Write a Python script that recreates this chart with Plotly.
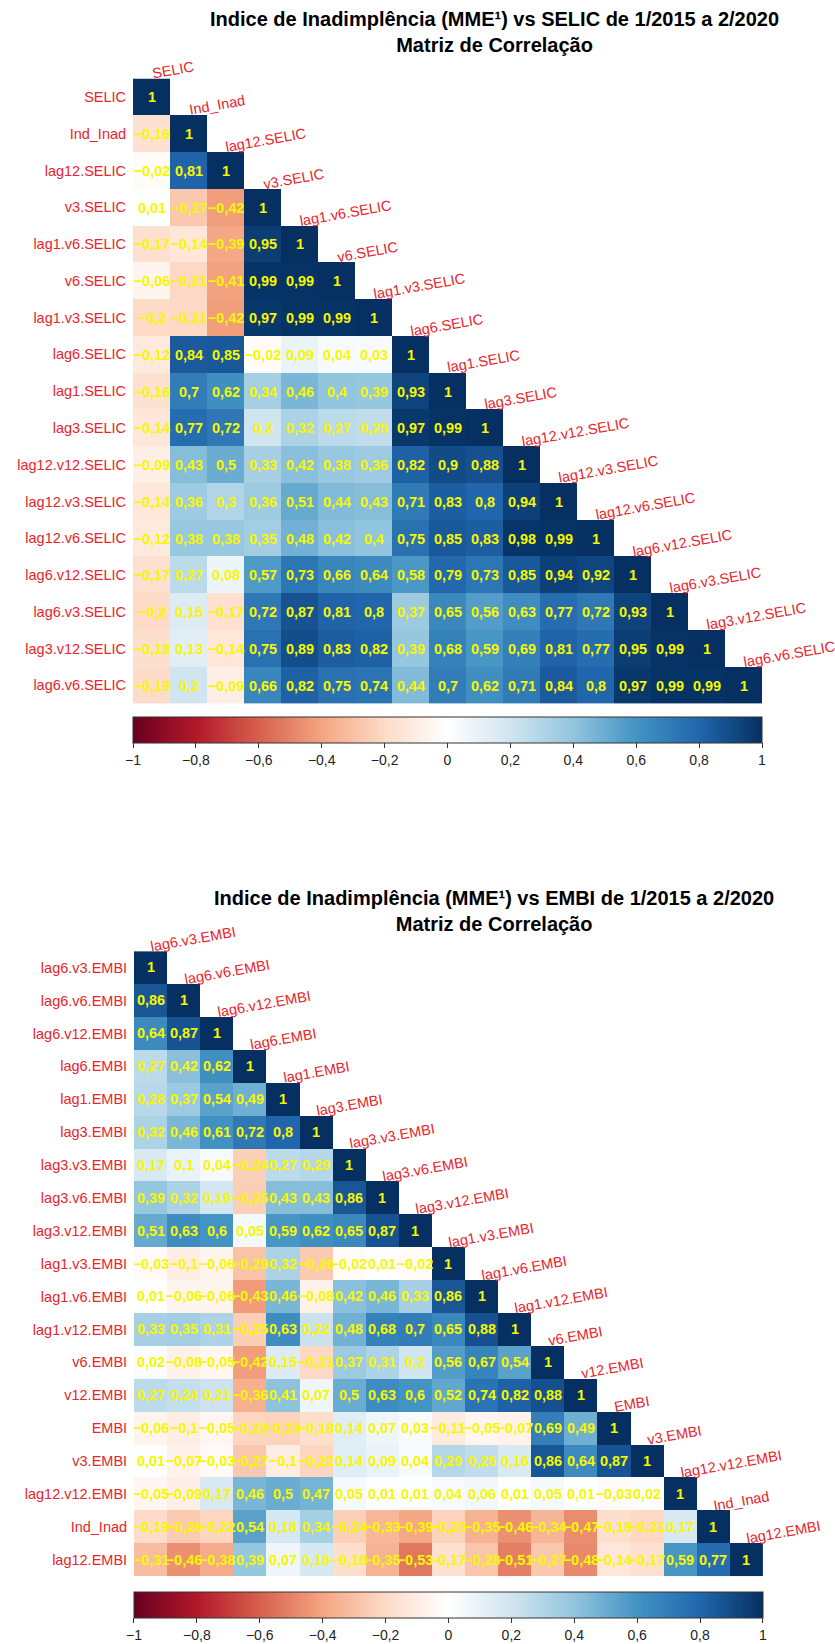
import plotly.graph_objects as go

# ---------------- data ----------------
labels_selic = ["SELIC", "Ind_Inad", "lag12.SELIC", "v3.SELIC", "lag1.v6.SELIC", "v6.SELIC",
                "lag1.v3.SELIC", "lag6.SELIC", "lag1.SELIC", "lag3.SELIC", "lag12.v12.SELIC",
                "lag12.v3.SELIC", "lag12.v6.SELIC", "lag6.v12.SELIC", "lag6.v3.SELIC",
                "lag3.v12.SELIC", "lag6.v6.SELIC"]

corr_selic = [
    [1],
    [-0.16, 1],
    [-0.02, 0.81, 1],
    [0.01, -0.27, -0.42, 1],
    [-0.17, -0.14, -0.39, 0.95, 1],
    [-0.06, -0.21, -0.41, 0.99, 0.99, 1],
    [-0.2, -0.21, -0.42, 0.97, 0.99, 0.99, 1],
    [-0.12, 0.84, 0.85, -0.02, 0.09, 0.04, 0.03, 1],
    [-0.16, 0.7, 0.62, 0.34, 0.46, 0.4, 0.39, 0.93, 1],
    [-0.14, 0.77, 0.72, 0.2, 0.32, 0.27, 0.25, 0.97, 0.99, 1],
    [-0.09, 0.43, 0.5, 0.33, 0.42, 0.38, 0.36, 0.82, 0.9, 0.88, 1],
    [-0.14, 0.36, 0.3, 0.36, 0.51, 0.44, 0.43, 0.71, 0.83, 0.8, 0.94, 1],
    [-0.12, 0.38, 0.38, 0.35, 0.48, 0.42, 0.4, 0.75, 0.85, 0.83, 0.98, 0.99, 1],
    [-0.17, 0.27, 0.08, 0.57, 0.73, 0.66, 0.64, 0.58, 0.79, 0.73, 0.85, 0.94, 0.92, 1],
    [-0.2, 0.15, -0.17, 0.72, 0.87, 0.81, 0.8, 0.37, 0.65, 0.56, 0.63, 0.77, 0.72, 0.93, 1],
    [-0.18, 0.13, -0.14, 0.75, 0.89, 0.83, 0.82, 0.39, 0.68, 0.59, 0.69, 0.81, 0.77, 0.95, 0.99, 1],
    [-0.19, 0.2, -0.09, 0.66, 0.82, 0.75, 0.74, 0.44, 0.7, 0.62, 0.71, 0.84, 0.8, 0.97, 0.99, 0.99, 1],
]

labels_embi = ["lag6.v3.EMBI", "lag6.v6.EMBI", "lag6.v12.EMBI", "lag6.EMBI", "lag1.EMBI",
               "lag3.EMBI", "lag3.v3.EMBI", "lag3.v6.EMBI", "lag3.v12.EMBI", "lag1.v3.EMBI",
               "lag1.v6.EMBI", "lag1.v12.EMBI", "v6.EMBI", "v12.EMBI", "EMBI", "v3.EMBI",
               "lag12.v12.EMBI", "Ind_Inad", "lag12.EMBI"]

corr_embi = [
    [1],
    [0.86, 1],
    [0.64, 0.87, 1],
    [0.27, 0.42, 0.62, 1],
    [0.28, 0.37, 0.54, 0.49, 1],
    [0.32, 0.46, 0.61, 0.72, 0.8, 1],
    [0.17, 0.1, 0.04, -0.24, 0.27, 0.29, 1],
    [0.39, 0.32, 0.19, -0.25, 0.43, 0.43, 0.86, 1],
    [0.51, 0.63, 0.6, 0.05, 0.59, 0.62, 0.65, 0.87, 1],
    [-0.03, -0.1, -0.06, -0.29, 0.32, -0.26, -0.02, 0.01, -0.02, 1],
    [0.01, -0.06, -0.06, -0.43, 0.46, -0.08, 0.42, 0.46, 0.33, 0.86, 1],
    [0.33, 0.35, 0.31, -0.25, 0.63, 0.22, 0.48, 0.68, 0.7, 0.65, 0.88, 1],
    [0.02, -0.08, -0.05, -0.42, 0.15, -0.21, 0.37, 0.31, 0.2, 0.56, 0.67, 0.54, 1],
    [0.27, 0.24, 0.21, -0.36, 0.41, 0.07, 0.5, 0.63, 0.6, 0.52, 0.74, 0.82, 0.88, 1],
    [-0.06, -0.1, -0.05, -0.22, -0.23, -0.18, 0.14, 0.07, 0.03, -0.11, -0.05, -0.07, 0.69, 0.49, 1],
    [0.01, -0.07, -0.03, -0.27, -0.1, -0.22, 0.14, 0.09, 0.04, 0.29, 0.25, 0.16, 0.86, 0.64, 0.87, 1],
    [-0.05, -0.09, 0.17, 0.46, 0.5, 0.47, 0.05, 0.01, 0.01, 0.04, 0.06, 0.01, 0.05, 0.01, -0.03, 0.02, 1],
    [-0.19, -0.26, -0.22, 0.54, 0.18, 0.34, -0.24, -0.33, -0.39, -0.23, -0.35, -0.46, -0.34, -0.47,
     -0.18, -0.21, 0.17, 1],
    [-0.31, -0.46, -0.38, 0.39, 0.07, 0.18, -0.18, -0.35, -0.53, -0.17, -0.28, -0.51, -0.27, -0.48,
     -0.14, -0.17, 0.59, 0.77, 1],
]

title_selic = "Indice de Inadimplência (MME¹) vs SELIC de 1/2015 a 2/2020<br>Matriz de Correlação"
title_embi = "Indice de Inadimplência (MME¹) vs EMBI de 1/2015 a 2/2020<br>Matriz de Correlação"

cbar_vals = [-1, -0.8, -0.6, -0.4, -0.2, 0, 0.2, 0.4, 0.6, 0.8, 1]
cbar_text = ["\u22121", "\u22120,8", "\u22120,6", "\u22120,4", "\u22120,2", "0",
             "0,2", "0,4", "0,6", "0,8", "1"]

# ---------------- style ----------------
W, H = 835, 1644
FONT = "Liberation Sans, Arial, sans-serif"
RED = "#e8242c"
pal = ["#67001F", "#B2182B", "#D6604D", "#F4A582", "#FDDBC7", "#FFFFFF",
       "#D1E5F0", "#92C5DE", "#4393C3", "#2166AC", "#053061"]
CS = [[i / (len(pal) - 1), c] for i, c in enumerate(pal)]


def fmt(v):
    s = f"{abs(v):.2f}".rstrip("0").rstrip(".").replace(".", ",")
    return ("\u2212" + s) if v < 0 else s


def px_x(p):
    return p / W


def px_y(p):
    return 1 - p / H


fig = go.Figure()
annotations = []

panels = [
    # labels, rows, axis suffix, left, top, cell, title, title y line1, cbar top
    (labels_selic, corr_selic, "", 133.0, 79.0, 37.0, title_selic, 32, 721),
    (labels_embi, corr_embi, "2", 134.0, 957.0, 33.1, title_embi, 917, 1602),
]

layout_axes = {}
for labels, rows, sfx, left, top, cell, title, ty, cbtop in panels:
    n = len(labels)
    z = [[(rows[i][j] if j <= i else None) for j in range(n)] for i in range(n)]
    txt = [[(fmt(rows[i][j]) if j <= i else "") for j in range(n)] for i in range(n)]
    right = left + n * cell
    bottom = top + n * cell
    fig.add_trace(go.Heatmap(
        z=z, x=list(range(n)), y=list(range(n)), text=txt, texttemplate="%{text}",
        textfont=dict(family=FONT, size=14.5, color="#f7f700", weight="bold"),
        colorscale=CS, zmin=-1, zmax=1, hoverinfo="skip",
        xaxis="x" + sfx, yaxis="y" + sfx,
        colorbar=dict(orientation="h", x=px_x((left + right) / 2), xanchor="center",
                      y=px_y(cbtop), yanchor="top", len=right - left, lenmode="pixels",
                      thickness=26, thicknessmode="pixels", xpad=0, ypad=0,
                      outlinewidth=1, outlinecolor="#333",
                      ticks="outside", ticklen=5, tickcolor="#333",
                      tickvals=cbar_vals, ticktext=cbar_text,
                      tickfont=dict(family=FONT, size=14, color="#222")),
    ))
    layout_axes["xaxis" + sfx] = dict(domain=[px_x(left), px_x(right)], range=[-0.5, n - 0.5],
                                      showgrid=False, zeroline=False, showticklabels=False,
                                      showline=False, anchor="y" + sfx, fixedrange=True)
    layout_axes["yaxis" + sfx] = dict(domain=[px_y(bottom), px_y(top)], range=[n - 0.5, -0.5],
                                      showgrid=False, zeroline=False, showline=False,
                                      tickvals=list(range(n)), ticktext=labels,
                                      ticks="outside", ticklen=3, tickcolor="rgba(0,0,0,0)",
                                      tickfont=dict(family=FONT, size=14.5, color=RED),
                                      anchor="x" + sfx, fixedrange=True)
    for j, lab in enumerate(labels):
        annotations.append(dict(x=j, y=j - 0.5, xref="x" + sfx, yref="y" + sfx, text=lab,
                                showarrow=False, xanchor="left", yanchor="bottom",
                                xshift=-2, yshift=-4,
                                textangle=-10, font=dict(family=FONT, size=14.5, color=RED),
                                borderpad=0))
    annotations.append(dict(x=px_x(494), y=px_y(ty), xref="paper", yref="paper", text=title,
                            showarrow=False, xanchor="center", yanchor="middle", align="center",
                            font=dict(family=FONT, size=20, color="black", weight="bold")))

fig.update_layout(width=W, height=H, margin=dict(l=0, r=0, t=0, b=0),
                  paper_bgcolor="white", plot_bgcolor="white",
                  annotations=annotations, showlegend=False, **layout_axes)

fig.write_html("out.html", config={"displayModeBar": False},
               post_script="document.body.style.margin='0';")
